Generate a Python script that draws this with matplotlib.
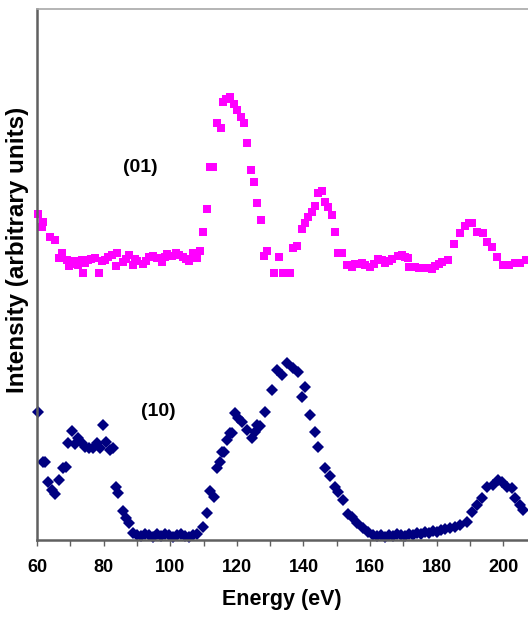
import matplotlib
matplotlib.use("Agg")
import matplotlib.pyplot as plt

plt.rcParams['font.family'] = ['Liberation Sans', 'DejaVu Sans']

# (01) series - magenta squares
e01 = [60.3, 61.5, 61.8, 63.9, 65.4, 66.6, 67.5, 69.0, 69.6, 70.2, 71.4, 72.3, 73.5, 73.8,
       74.4, 75.3, 76.3, 77.4, 78.6, 79.5, 80.4, 81.3, 82.5, 83.7, 84.0, 85.8, 86.7, 87.6,
       88.8, 89.4, 90.0, 91.8, 92.7, 93.6, 94.8, 96.0, 97.5, 98.4, 99.0, 100.5, 101.7, 102.6,
       103.8, 104.7, 105.6, 106.8, 107.4, 108.0, 108.9, 109.8, 111.1, 112.0, 112.9, 114.1,
       115.3, 115.9, 116.8, 118.0, 119.2, 120.1, 121.3, 122.2, 123.1, 124.3, 125.2, 126.1,
       127.3, 128.2, 129.1, 131.2, 132.7, 133.9, 136.0, 136.9, 138.1, 139.6, 140.5, 141.4,
       142.6, 143.5, 144.4, 145.6, 146.5, 147.4, 148.6, 149.5, 150.4, 151.6, 153.1, 154.6,
       155.5, 156.4, 157.5, 158.5, 160.0, 161.2, 162.4, 163.5, 164.5, 165.6, 166.6, 168.4,
       169.6, 170.5, 171.4, 171.7, 173.5, 174.6, 175.6, 177.4, 178.5, 179.5, 180.6, 181.6,
       183.4, 185.2, 187.0, 188.5, 189.6, 190.6, 192.1, 193.9, 195.1, 196.6, 198.1, 199.9,
       201.7, 203.5, 205.0, 206.8]
i01 = [326, 313, 318, 303, 300, 282, 287, 280, 274, 276, 279, 275, 280, 267,
       277, 280, 281, 282, 267, 279, 280, 283, 285, 274, 287, 278, 281, 285,
       275, 281, 279, 276, 279, 283, 284, 282, 278, 283, 286, 284, 287, 285,
       283, 281, 279, 287, 284, 282, 289, 308, 331, 373, 373, 417,
       412, 438, 441, 443, 436, 430, 423, 417, 397, 370, 358, 337,
       320, 284, 289, 267, 283, 267, 267, 292, 294, 311, 317, 323,
       328, 334, 347, 349, 338, 333, 325, 308, 287, 287, 275, 273,
       276, 276, 277, 275, 273, 276, 281, 280, 277, 279, 281, 284,
       285, 283, 282, 273, 273, 272, 272, 272, 271, 274, 276, 278,
       280, 296, 307, 314, 317, 317, 308, 307, 298, 293, 283, 275,
       275, 277, 277, 280]

# (10) series - navy diamonds
e10 = [60.3, 61.8, 62.4, 63.3, 64.5, 65.4, 66.6, 67.8, 68.7, 69.3, 70.5, 71.4, 72.3, 73.5,
       74.4, 75.6, 76.8, 78.0, 78.9, 79.8, 80.7, 81.9, 82.8, 83.7, 84.3, 85.8, 86.7, 87.6,
       88.8, 90.0, 91.2, 92.4, 93.6, 94.8, 96.0, 97.2, 98.4, 99.6, 100.8, 102.0, 103.2,
       104.4, 105.6, 106.8, 108.0, 109.8, 111.1, 112.0, 113.2, 114.1, 115.0, 115.6, 116.2,
       117.1, 118.0, 118.6, 119.5, 120.4, 121.6, 123.1, 124.6, 125.5, 126.1, 127.0, 128.5,
       130.6, 132.1, 133.6, 135.1, 136.9, 138.4, 139.6, 140.5, 142.0, 143.5, 144.4, 146.5,
       148.0, 149.5, 150.4, 151.9, 153.4, 154.6, 156.1, 157.9, 159.4, 160.9, 162.0, 163.2,
       164.4, 165.6, 166.8, 168.0, 169.2, 170.4, 171.6, 172.8, 174.0, 175.2, 176.4, 177.6,
       178.8, 180.0, 181.2, 182.4, 184.0, 185.5, 187.0, 189.1, 190.6, 192.1, 193.6, 195.1,
       196.9, 198.4, 199.6, 201.1, 202.6, 203.5, 205.0, 205.9]
i10 = [128, 78, 78, 58, 50, 46, 60, 72, 73, 97, 109, 96, 102, 97,
       93, 92, 92, 97, 92, 115, 98, 90, 92, 53, 47, 29, 22, 17,
       7, 5, 4, 6, 5, 3, 6, 4, 6, 5, 3, 5, 6,
       4, 3, 5, 6, 13, 27, 49, 43, 72, 78, 88, 88,
       100, 107, 107, 127, 122, 118, 110, 102, 108, 115, 114, 128,
       150, 170, 165, 177, 172, 168, 143, 153, 125, 108, 93, 72,
       64, 53, 48, 40, 26, 23, 17, 12, 8, 5, 4, 5,
       3, 5, 4, 6, 5, 4, 6, 5, 7, 6, 8, 7,
       9, 8, 10, 11, 12, 13, 15, 18, 28, 35, 42, 53,
       55, 60, 58, 53, 52, 42, 35, 30]

xticks = [60, 80, 100, 120, 140, 160, 180, 200]
labels = ["(01)", "(10)"]

fig = plt.figure(figsize=(5.28, 6.17), dpi=100)
ax = fig.add_axes([37/528, 1 - 540/617, 1 - 37/528, (540 - 9)/617])

ax.plot(e01, i01, linestyle='none', marker='s', markersize=6.0,
        color='#FF00FF', markeredgewidth=0, clip_on=False)
ax.plot(e10, i10, linestyle='none', marker='D', markersize=6.0,
        color='#000080', markeredgewidth=0, clip_on=False)

ax.set_xlim(60, 207.4)
ax.set_ylim(0, 531)

ax.text(91.1, 373, labels[0], fontsize=14, fontweight='bold', ha='center', va='center')
ax.text(96.3, 128, labels[1], fontsize=14, fontweight='bold', ha='center', va='center')

ax.set_xticks(xticks)
ax.set_xticks(range(60, 210, 10), minor=True)
ax.set_xticklabels([str(t) for t in xticks], fontsize=13, fontweight='bold')
ax.tick_params(axis='x', which='both', direction='out', length=4, width=1, color='#606060', pad=10)
ax.set_yticks([])

for s in ['left', 'bottom']:
    ax.spines[s].set_color('#606060')
    ax.spines[s].set_linewidth(1.8)
ax.spines['top'].set_color('#a8a8a8')
ax.spines['top'].set_linewidth(1.2)
ax.spines['right'].set_visible(False)

fig.text(282/528, 1 - 600/617, 'Energy (eV)', fontsize=15.5, fontweight='bold',
         ha='center', va='center')
fig.text(18/528, 1 - 250/617, 'Intensity (arbitrary units)', fontsize=17.5, fontweight='bold',
         ha='center', va='center', rotation=90)

fig.savefig('out.png', dpi=100)
